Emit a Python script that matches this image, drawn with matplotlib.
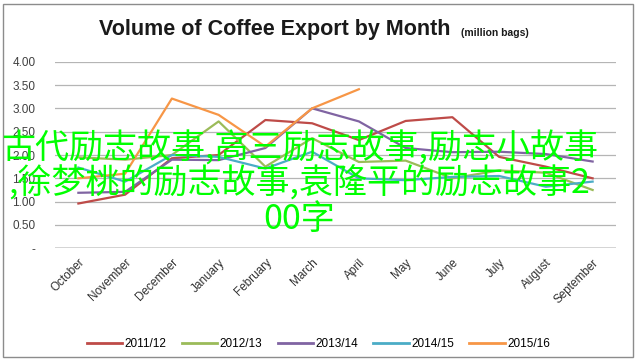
import matplotlib
matplotlib.use("Agg")
import matplotlib.pyplot as plt
from matplotlib.patches import Rectangle
from matplotlib.lines import Line2D
import numpy as np

months = ["October", "November", "December", "January", "February", "March",
          "April", "May", "June", "July", "August", "September"]
y_ticks = [0, 0.5, 1.0, 1.5, 2.0, 2.5, 3.0, 3.5, 4.0]
y_tick_labels = ["-", "0.50", "1.00", "1.50", "2.00", "2.50", "3.00", "3.50", "4.00"]

s_2011 = [0.96, 1.15, 1.93, 2.00, 2.75, 2.68, 2.32, 2.73, 2.81, 1.96, 1.75, 1.50]
s_2012 = [1.95, 1.90, 2.00, 2.72, 1.75, 2.36, 1.85, 1.88, 1.50, 1.67, 1.62, 1.25]
s_2013 = [1.19, 1.21, 1.90, 1.89, 2.15, 3.00, 2.72, 2.15, 2.06, 2.07, 2.02, 1.86]
s_2014 = [1.73, 1.43, 2.00, 1.96, 1.71, 2.07, 1.50, 1.46, 1.53, 1.55, 1.32, 1.43]
s_2015 = [1.50, 1.60, 3.21, 2.86, 2.18, 3.00, 3.41]

series = [("2011/12", s_2011, "#be4b48"),
          ("2012/13", s_2012, "#9bbb59"),
          ("2013/14", s_2013, "#8064a2"),
          ("2014/15", s_2014, "#4bacc6"),
          ("2015/16", s_2015, "#f79646")]

overlay = "古代励志故事,高三励志故事,励志小故事\n,徐梦桃的励志故事,袁隆平的励志故事2\n00字"

W, H = 637, 360
fig = plt.figure(figsize=(W / 100, H / 100), dpi=100)
fig.patch.set_facecolor("white")

# outer border
fig.add_artist(Rectangle((3 / W, 3 / H), 630 / W, 353 / H, transform=fig.transFigure,
                         fill=False, edgecolor="#8c8c8c", linewidth=1.0))

left, right = 55 / W, 616 / W
top, bottom = 1 - 61.7 / H, 1 - 248.3 / H
ax = fig.add_axes([left, bottom, right - left, top - bottom])

x = np.arange(len(months))
for name, vals, col in series:
    ax.plot(x[:len(vals)], vals, color=col, linewidth=1.6, label=name, zorder=3)

ax.set_xlim(-0.5, len(months) - 0.5)
ax.set_ylim(0, 4.0)
ax.set_yticks(y_ticks)
ax.set_yticklabels(y_tick_labels, fontsize=8.5, color="#404040", family="Liberation Sans")
for yv in y_ticks[1:]:
    ax.axhline(yv, color="#b5b5b5", linewidth=0.9, zorder=1)
ax.axhline(0, color="#c8c8c8", linewidth=1.8, zorder=1)
for s in ax.spines.values():
    s.set_visible(False)
ax.tick_params(axis="both", length=0)
ax.tick_params(axis="y", pad=14)
ax.set_xticks(x)
ax.set_xticklabels(months, rotation=45, ha="right", rotation_mode="anchor",
                   fontsize=8.5, color="#303030", family="Liberation Sans")
ax.tick_params(axis="x", pad=6)

# title
fig.text(0.432, 1 - 30 / H, "Volume of Coffee Export by Month", ha="center", va="center",
         fontsize=15.5, fontweight="bold", family="Liberation Sans", color="#1a1a1a")
fig.text(0.724, 1 - 33 / H, "(million bags)", ha="left", va="center",
         fontsize=7.5, fontweight="bold", family="Liberation Sans", color="#1a1a1a")

# legend
handles = [Line2D([0], [0], color=c, linewidth=2) for _, _, c in series]
labels = [n for n, _, _ in series]
fig.legend(handles, labels, loc="center", bbox_to_anchor=(0.5, 1 - 344 / H), ncol=5,
           frameon=False, handlelength=3.0, handletextpad=0.2,
           columnspacing=1.3, prop={"family": "Liberation Sans", "size": 8.5})

# overlay text
fig.text(0.470, 1 - 184 / H, overlay, ha="center", va="center", fontsize=24.5,
         color="#00ff00", family=["Noto Sans CJK SC", "DejaVu Sans"], fontweight="medium",
         linespacing=1.0, zorder=10)

fig.savefig("out.png", dpi=100, facecolor="white")
